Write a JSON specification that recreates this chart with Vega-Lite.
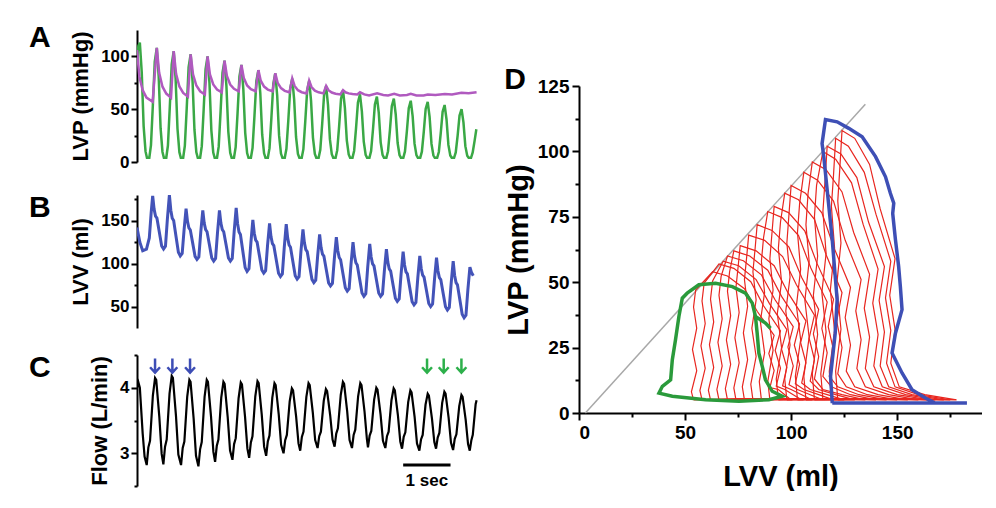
{
"$schema": "https://vega.github.io/schema/vega-lite/v6.json",
"padding": {"left": 29, "top": 23, "right": 0, "bottom": 0},
"background": "white",
"config": {
  "view": {"stroke": null},
  "font": "Liberation Sans",
  "axis": {"domainColor": "black", "domainWidth": 2, "tickColor": "black", "tickWidth": 2, "labelColor": "black", "labelFont": "Liberation Sans", "labelFontWeight": "bold", "titleFont": "Liberation Sans", "titleFontWeight": "bold", "titleColor": "black", "grid": false},
  "title": {"font": "Liberation Sans", "fontWeight": "bold", "fontSize": 30, "color": "black"}
},
"datasets": {
  "lvp": [
    {"t":0,"p":100},{"t":0.03,"p":110},
    {"t":0.06,"p":113},{"t":0.1,"p":85},{"t":0.14,"p":34},{"t":0.18,"p":10},{"t":0.21,"p":4},{"t":0.26,"p":4},{"t":0.295,"p":16},{"t":0.335,"p":54},{"t":0.375,"p":95},
    {"t":0.418,"p":108},{"t":0.458,"p":81},{"t":0.498,"p":32},{"t":0.538,"p":9.5},{"t":0.568,"p":4},{"t":0.618,"p":4},{"t":0.653,"p":15.6},{"t":0.693,"p":52.5},{"t":0.733,"p":92.4},
    {"t":0.775,"p":105},{"t":0.815,"p":79},{"t":0.855,"p":31.5},{"t":0.895,"p":9.3},{"t":0.925,"p":4},{"t":0.975,"p":4},{"t":1.01,"p":15.2},{"t":1.05,"p":51},{"t":1.09,"p":89.8},
    {"t":1.133,"p":102},{"t":1.173,"p":76.5},{"t":1.213,"p":30.6},{"t":1.253,"p":9.1},{"t":1.283,"p":4},{"t":1.333,"p":4},{"t":1.368,"p":15},{"t":1.408,"p":50},{"t":1.448,"p":88},
    {"t":1.49,"p":100},{"t":1.53,"p":75},{"t":1.57,"p":30},{"t":1.61,"p":9},{"t":1.64,"p":4},{"t":1.69,"p":4},{"t":1.725,"p":14.5},{"t":1.765,"p":48},{"t":1.805,"p":84.5},
    {"t":1.848,"p":96},{"t":1.888,"p":72},{"t":1.928,"p":28.8},{"t":1.968,"p":8.8},{"t":1.998,"p":4},{"t":2.048,"p":4},{"t":2.083,"p":14},{"t":2.123,"p":46},{"t":2.163,"p":81},
    {"t":2.205,"p":92},{"t":2.245,"p":69},{"t":2.285,"p":27.6},{"t":2.325,"p":8.5},{"t":2.355,"p":4},{"t":2.405,"p":4},{"t":2.44,"p":13.4},{"t":2.48,"p":43.5},{"t":2.52,"p":76.6},
    {"t":2.563,"p":87},{"t":2.603,"p":65.3},{"t":2.643,"p":26.1},{"t":2.683,"p":8.2},{"t":2.713,"p":4},{"t":2.763,"p":4},{"t":2.798,"p":13.1},{"t":2.838,"p":42},{"t":2.878,"p":73.9},
    {"t":2.92,"p":84},{"t":2.96,"p":63},{"t":3.0,"p":25.2},{"t":3.04,"p":8},{"t":3.07,"p":4},{"t":3.12,"p":4},{"t":3.155,"p":12.5},{"t":3.195,"p":39.5},{"t":3.235,"p":69.5},
    {"t":3.278,"p":79},{"t":3.318,"p":59.3},{"t":3.358,"p":23.7},{"t":3.398,"p":7.7},{"t":3.428,"p":4},{"t":3.478,"p":4},{"t":3.513,"p":12.2},{"t":3.553,"p":38.5},{"t":3.593,"p":67.8},
    {"t":3.635,"p":77},{"t":3.675,"p":57.8},{"t":3.715,"p":23.1},{"t":3.755,"p":7.6},{"t":3.785,"p":4},{"t":3.835,"p":4},{"t":3.87,"p":11.6},{"t":3.91,"p":36},{"t":3.95,"p":63.4},
    {"t":3.993,"p":72},{"t":4.033,"p":54},{"t":4.073,"p":21.6},{"t":4.113,"p":7.3},{"t":4.143,"p":4},{"t":4.193,"p":4},{"t":4.228,"p":11.2},{"t":4.268,"p":34},{"t":4.308,"p":59.8},
    {"t":4.35,"p":68},{"t":4.39,"p":51},{"t":4.43,"p":20.4},{"t":4.47,"p":7.1},{"t":4.5,"p":4},{"t":4.55,"p":4},{"t":4.585,"p":10.7},{"t":4.625,"p":32},{"t":4.665,"p":56.3},
    {"t":4.708,"p":64},{"t":4.748,"p":48},{"t":4.788,"p":19.2},{"t":4.828,"p":6.8},{"t":4.858,"p":4},{"t":4.908,"p":4},{"t":4.943,"p":10.4},{"t":4.983,"p":31},{"t":5.023,"p":54.6},
    {"t":5.065,"p":62},{"t":5.105,"p":46.5},{"t":5.145,"p":18.6},{"t":5.185,"p":6.7},{"t":5.215,"p":4},{"t":5.265,"p":4},{"t":5.3,"p":10.2},{"t":5.34,"p":30},{"t":5.38,"p":52.8},
    {"t":5.423,"p":60},{"t":5.463,"p":45},{"t":5.503,"p":18},{"t":5.543,"p":6.6},{"t":5.573,"p":4},{"t":5.623,"p":4},{"t":5.658,"p":10},{"t":5.698,"p":29},{"t":5.738,"p":51},
    {"t":5.78,"p":58},{"t":5.82,"p":43.5},{"t":5.86,"p":17.4},{"t":5.9,"p":6.5},{"t":5.93,"p":4},{"t":5.98,"p":4},{"t":6.015,"p":9.8},{"t":6.055,"p":28.5},{"t":6.095,"p":50.2},
    {"t":6.138,"p":57},{"t":6.178,"p":42.8},{"t":6.218,"p":17.1},{"t":6.258,"p":6.4},{"t":6.288,"p":4},{"t":6.338,"p":4},{"t":6.373,"p":9.5},{"t":6.413,"p":27},{"t":6.453,"p":47.5},
    {"t":6.495,"p":54},{"t":6.535,"p":40.5},{"t":6.575,"p":16.2},{"t":6.615,"p":6.2},{"t":6.645,"p":4},{"t":6.695,"p":4},{"t":6.73,"p":9},{"t":6.77,"p":25},{"t":6.81,"p":44},
    {"t":6.853,"p":50},{"t":6.893,"p":37.5},{"t":6.933,"p":15},{"t":6.973,"p":6},{"t":7.003,"p":4},{"t":7.053,"p":4},{"t":7.088,"p":9},{"t":7.128,"p":20},{"t":7.165,"p":31}
  ],
  "aop": [
    {"t":0,"p":106},{"t":0.05,"p":81},{"t":0.12,"p":68},{"t":0.2,"p":61},{"t":0.33,"p":57},
    {"t":0.418,"p":108},{"t":0.468,"p":84.5},{"t":0.538,"p":71.3},{"t":0.618,"p":64.8},{"t":0.718,"p":61},
    {"t":0.775,"p":105},{"t":0.825,"p":83.5},{"t":0.895,"p":71.5},{"t":0.975,"p":65.4},{"t":1.075,"p":62},
    {"t":1.133,"p":102},{"t":1.183,"p":83},{"t":1.253,"p":72.4},{"t":1.333,"p":67},{"t":1.433,"p":64},
    {"t":1.49,"p":100},{"t":1.54,"p":83},{"t":1.61,"p":73.5},{"t":1.69,"p":68.7},{"t":1.79,"p":66},
    {"t":1.848,"p":96},{"t":1.898,"p":81.5},{"t":1.968,"p":73.4},{"t":2.048,"p":69.3},{"t":2.148,"p":67},
    {"t":2.205,"p":92},{"t":2.255,"p":79.5},{"t":2.325,"p":72.5},{"t":2.405,"p":69},{"t":2.505,"p":67},
    {"t":2.563,"p":87},{"t":2.613,"p":77},{"t":2.683,"p":71.4},{"t":2.763,"p":68.6},{"t":2.863,"p":67},
    {"t":2.92,"p":84},{"t":2.97,"p":75},{"t":3.04,"p":70},{"t":3.12,"p":67.4},{"t":3.22,"p":66},
    {"t":3.278,"p":79},{"t":3.328,"p":72},{"t":3.398,"p":68},{"t":3.478,"p":66.1},{"t":3.578,"p":65},
    {"t":3.635,"p":77},{"t":3.685,"p":71},{"t":3.755,"p":67.6},{"t":3.835,"p":66},{"t":3.935,"p":65},
    {"t":3.993,"p":72},{"t":4.043,"p":68},{"t":4.113,"p":65.8},{"t":4.193,"p":64.6},{"t":4.293,"p":64},
    {"t":4.35,"p":68},{"t":4.4,"p":66},{"t":4.47,"p":65},{"t":4.55,"p":64.3},{"t":4.65,"p":64},
    {"t":4.708,"p":66},{"t":4.8,"p":64},{"t":4.9,"p":63},{"t":5.07,"p":65},{"t":5.2,"p":63.5},{"t":5.3,"p":63},{"t":5.43,"p":64.5},{"t":5.55,"p":63},{"t":5.7,"p":63.5},{"t":5.78,"p":64.5},{"t":5.9,"p":63},{"t":6.05,"p":63},{"t":6.14,"p":64},{"t":6.3,"p":63.5},{"t":6.5,"p":64.5},{"t":6.65,"p":64},{"t":6.85,"p":65.5},{"t":7.0,"p":65},{"t":7.17,"p":66}
  ],
  "lvv": [
    {"t":0,"v":142},{"t":0.06,"v":125},{"t":0.12,"v":115},{"t":0.2,"v":117},{"t":0.26,"v":130},{"t":0.3,"v":160},{"t":0.331,"v":179},
    {"t":0.361,"v":163.5},{"t":0.391,"v":155.4},{"t":0.421,"v":153},{"t":0.471,"v":136.8},{"t":0.521,"v":120.7},{"t":0.561,"v":117},{"t":0.601,"v":120.2},{"t":0.641,"v":151.7},{"t":0.684,"v":180},
    {"t":0.714,"v":162.3},{"t":0.744,"v":153},{"t":0.774,"v":150.2},{"t":0.824,"v":131.7},{"t":0.874,"v":113.3},{"t":0.914,"v":109},{"t":0.954,"v":111.8},{"t":0.994,"v":139.3},{"t":1.036,"v":164},
    {"t":1.066,"v":149.3},{"t":1.096,"v":141.6},{"t":1.126,"v":139.2},{"t":1.176,"v":123.9},{"t":1.226,"v":108.5},{"t":1.266,"v":105},{"t":1.306,"v":107.9},{"t":1.346,"v":136.4},{"t":1.389,"v":162},
    {"t":1.419,"v":147.3},{"t":1.449,"v":139.6},{"t":1.479,"v":137.2},{"t":1.529,"v":121.9},{"t":1.579,"v":106.5},{"t":1.619,"v":103},{"t":1.659,"v":106},{"t":1.699,"v":135.5},{"t":1.741,"v":162},
    {"t":1.771,"v":147.3},{"t":1.801,"v":139.6},{"t":1.831,"v":137.2},{"t":1.881,"v":121.9},{"t":1.931,"v":106.5},{"t":1.971,"v":103},{"t":2.011,"v":106.1},{"t":2.051,"v":137.1},{"t":2.094,"v":165},
    {"t":2.124,"v":146.5},{"t":2.154,"v":136.9},{"t":2.184,"v":133.9},{"t":2.234,"v":114.7},{"t":2.284,"v":95.4},{"t":2.324,"v":91},{"t":2.364,"v":94},{"t":2.404,"v":124},{"t":2.446,"v":151},
    {"t":2.476,"v":135.5},{"t":2.506,"v":127.4},{"t":2.536,"v":125},{"t":2.586,"v":108.8},{"t":2.636,"v":92.7},{"t":2.676,"v":89},{"t":2.716,"v":91.9},{"t":2.756,"v":120.9},{"t":2.799,"v":147},
    {"t":2.829,"v":131.5},{"t":2.859,"v":123.4},{"t":2.889,"v":121},{"t":2.939,"v":104.8},{"t":2.989,"v":88.7},{"t":3.029,"v":85},{"t":3.069,"v":88},{"t":3.109,"v":118.6},{"t":3.151,"v":146},
    {"t":3.181,"v":130},{"t":3.211,"v":121.7},{"t":3.241,"v":119.1},{"t":3.291,"v":102.5},{"t":3.341,"v":85.8},{"t":3.381,"v":82},{"t":3.421,"v":84.9},{"t":3.461,"v":113.9},{"t":3.504,"v":140},
    {"t":3.534,"v":124.5},{"t":3.564,"v":116.4},{"t":3.594,"v":114},{"t":3.644,"v":97.8},{"t":3.694,"v":81.7},{"t":3.734,"v":78},{"t":3.774,"v":80.8},{"t":3.814,"v":108.8},{"t":3.856,"v":134},
    {"t":3.886,"v":119},{"t":3.916,"v":111.2},{"t":3.946,"v":108.8},{"t":3.996,"v":93.2},{"t":4.046,"v":77.6},{"t":4.086,"v":74},{"t":4.126,"v":76.9},{"t":4.166,"v":105.4},{"t":4.209,"v":131},
    {"t":4.239,"v":115.3},{"t":4.269,"v":107.1},{"t":4.299,"v":104.5},{"t":4.349,"v":88.2},{"t":4.399,"v":71.8},{"t":4.439,"v":68},{"t":4.479,"v":70.9},{"t":4.519,"v":99.4},{"t":4.561,"v":125},
    {"t":4.591,"v":109.3},{"t":4.621,"v":101.1},{"t":4.651,"v":98.5},{"t":4.701,"v":82.2},{"t":4.751,"v":65.8},{"t":4.791,"v":62},{"t":4.831,"v":65},{"t":4.871,"v":95.6},{"t":4.914,"v":123},
    {"t":4.944,"v":107.8},{"t":4.974,"v":99.8},{"t":5.004,"v":97.4},{"t":5.054,"v":81.5},{"t":5.104,"v":65.7},{"t":5.144,"v":62},{"t":5.184,"v":64.8},{"t":5.224,"v":92.3},{"t":5.266,"v":117},
    {"t":5.296,"v":101.8},{"t":5.326,"v":93.8},{"t":5.356,"v":91.4},{"t":5.406,"v":75.5},{"t":5.456,"v":59.7},{"t":5.496,"v":56},{"t":5.536,"v":58.9},{"t":5.576,"v":87.9},{"t":5.619,"v":114},
    {"t":5.649,"v":98.5},{"t":5.679,"v":90.4},{"t":5.709,"v":88},{"t":5.759,"v":71.8},{"t":5.809,"v":55.7},{"t":5.849,"v":52},{"t":5.889,"v":54.9},{"t":5.929,"v":83.4},{"t":5.971,"v":109},
    {"t":6.001,"v":94.3},{"t":6.031,"v":86.6},{"t":6.061,"v":84.2},{"t":6.111,"v":68.9},{"t":6.161,"v":53.5},{"t":6.201,"v":50},{"t":6.241,"v":52.9},{"t":6.281,"v":81.4},{"t":6.324,"v":107},
    {"t":6.354,"v":91.8},{"t":6.384,"v":83.8},{"t":6.414,"v":81.4},{"t":6.464,"v":65.5},{"t":6.514,"v":49.7},{"t":6.554,"v":46},{"t":6.594,"v":48.9},{"t":6.634,"v":77.4},{"t":6.676,"v":103},
    {"t":6.706,"v":86.5},{"t":6.736,"v":77.9},{"t":6.766,"v":75.3},{"t":6.816,"v":58.1},{"t":6.866,"v":41},{"t":6.906,"v":37},{"t":6.946,"v":40},{"t":6.986,"v":69.5},{"t":7.029,"v":96},
    {"t":7.06,"v":90},{"t":7.1,"v":86}
  ],
  "flow": [
    {"t":0,"f":4.0},{"t":0.03,"f":4.08},{"t":0.06,"f":4.0},{"t":0.12,"f":3.3},{"t":0.16,"f":2.95},
    {"t":0.205,"f":2.82},{"t":0.24,"f":3.09},{"t":0.275,"f":3.19},{"t":0.335,"f":3.88},{"t":0.381,"f":4.15},{"t":0.406,"f":4.12},{"t":0.471,"f":3.56},{"t":0.521,"f":2.99},
    {"t":0.557,"f":2.83},{"t":0.592,"f":3.1},{"t":0.627,"f":3.21},{"t":0.687,"f":3.91},{"t":0.733,"f":4.18},{"t":0.758,"f":4.15},{"t":0.823,"f":3.57},{"t":0.873,"f":2.98},
    {"t":0.93,"f":2.82},{"t":0.965,"f":3.08},{"t":1.0,"f":3.18},{"t":1.06,"f":3.86},{"t":1.106,"f":4.12},{"t":1.131,"f":4.09},{"t":1.196,"f":3.53},{"t":1.246,"f":2.96},
    {"t":1.297,"f":2.8},{"t":1.332,"f":3.06},{"t":1.367,"f":3.17},{"t":1.427,"f":3.86},{"t":1.473,"f":4.12},{"t":1.498,"f":4.09},{"t":1.563,"f":3.56},{"t":1.613,"f":3.02},
    {"t":1.649,"f":2.87},{"t":1.684,"f":3.11},{"t":1.719,"f":3.21},{"t":1.779,"f":3.85},{"t":1.825,"f":4.09},{"t":1.85,"f":4.06},{"t":1.915,"f":3.55},{"t":1.965,"f":3.04},
    {"t":2.015,"f":2.9},{"t":2.05,"f":3.14},{"t":2.085,"f":3.23},{"t":2.145,"f":3.84},{"t":2.191,"f":4.08},{"t":2.216,"f":4.05},{"t":2.281,"f":3.56},{"t":2.331,"f":3.07},
    {"t":2.368,"f":2.93},{"t":2.403,"f":3.16},{"t":2.438,"f":3.26},{"t":2.498,"f":3.87},{"t":2.544,"f":4.1},{"t":2.569,"f":4.07},{"t":2.634,"f":3.59},{"t":2.684,"f":3.1},
    {"t":2.727,"f":2.96},{"t":2.762,"f":3.18},{"t":2.797,"f":3.27},{"t":2.857,"f":3.85},{"t":2.903,"f":4.07},{"t":2.928,"f":4.04},{"t":2.993,"f":3.59},{"t":3.043,"f":3.13},
    {"t":3.094,"f":3.0},{"t":3.129,"f":3.2},{"t":3.164,"f":3.28},{"t":3.224,"f":3.79},{"t":3.27,"f":3.99},{"t":3.295,"f":3.96},{"t":3.36,"f":3.56},{"t":3.41,"f":3.15},
    {"t":3.446,"f":3.04},{"t":3.481,"f":3.25},{"t":3.516,"f":3.33},{"t":3.576,"f":3.86},{"t":3.622,"f":4.07},{"t":3.647,"f":4.04},{"t":3.712,"f":3.62},{"t":3.762,"f":3.2},
    {"t":3.813,"f":3.08},{"t":3.848,"f":3.26},{"t":3.883,"f":3.33},{"t":3.943,"f":3.8},{"t":3.989,"f":3.98},{"t":4.014,"f":3.95},{"t":4.079,"f":3.58},{"t":4.129,"f":3.21},
    {"t":4.172,"f":3.1},{"t":4.207,"f":3.3},{"t":4.242,"f":3.38},{"t":4.302,"f":3.89},{"t":4.348,"f":4.09},{"t":4.373,"f":4.06},{"t":4.438,"f":3.64},{"t":4.488,"f":3.2},
    {"t":4.539,"f":3.08},{"t":4.574,"f":3.28},{"t":4.609,"f":3.36},{"t":4.669,"f":3.87},{"t":4.715,"f":4.07},{"t":4.74,"f":4.04},{"t":4.805,"f":3.63},{"t":4.855,"f":3.21},
    {"t":4.877,"f":3.09},{"t":4.912,"f":3.27},{"t":4.947,"f":3.34},{"t":5.007,"f":3.82},{"t":5.053,"f":4.0},{"t":5.078,"f":3.97},{"t":5.143,"f":3.59},{"t":5.193,"f":3.19},
    {"t":5.243,"f":3.08},{"t":5.278,"f":3.26},{"t":5.313,"f":3.33},{"t":5.373,"f":3.81},{"t":5.419,"f":3.99},{"t":5.444,"f":3.96},{"t":5.509,"f":3.58},{"t":5.559,"f":3.18},
    {"t":5.596,"f":3.07},{"t":5.631,"f":3.25},{"t":5.666,"f":3.32},{"t":5.726,"f":3.78},{"t":5.772,"f":3.96},{"t":5.797,"f":3.93},{"t":5.862,"f":3.55},{"t":5.912,"f":3.15},
    {"t":5.962,"f":3.04},{"t":5.997,"f":3.21},{"t":6.032,"f":3.28},{"t":6.092,"f":3.74},{"t":6.138,"f":3.91},{"t":6.163,"f":3.88},{"t":6.228,"f":3.53},{"t":6.278,"f":3.17},
    {"t":6.314,"f":3.07},{"t":6.349,"f":3.24},{"t":6.384,"f":3.31},{"t":6.444,"f":3.77},{"t":6.49,"f":3.94},{"t":6.515,"f":3.91},{"t":6.58,"f":3.54},{"t":6.63,"f":3.16},
    {"t":6.674,"f":3.05},{"t":6.709,"f":3.22},{"t":6.744,"f":3.29},{"t":6.804,"f":3.72},{"t":6.85,"f":3.89},{"t":6.875,"f":3.86},{"t":6.94,"f":3.51},{"t":6.99,"f":3.14},
    {"t":7.026,"f":3.04},{"t":7.06,"f":3.2},{"t":7.09,"f":3.28},{"t":7.15,"f":3.75},{"t":7.17,"f":3.81}
  ],
  "arrows": [
    {"t":0.381,"f":4.34,"c":"blue"},{"t":0.747,"f":4.34,"c":"blue"},{"t":1.12,"f":4.34,"c":"blue"},
    {"t":6.124,"f":4.34,"c":"green"},{"t":6.476,"f":4.34,"c":"green"},{"t":6.85,"f":4.34,"c":"green"}
  ],
  "bar": [{"t":5.62,"t2":6.62,"f":2.82}],
  "barlabel": [{"t":6.12,"f":2.58,"label":"1 sec"}],
  "diag": [{"v":3,"p":0},{"v":135,"p":118}],
  "blue": [
    {"i":1,"v":119.4,"p":3.8},{"i":2,"v":118.6,"p":14},{"i":3,"v":120.8,"p":30.5},{"i":4,"v":121.7,"p":43.3},{"i":5,"v":120.8,"p":52.2},{"i":6,"v":119.4,"p":66.2},{"i":7,"v":117,"p":85.3},{"i":8,"v":115.4,"p":98},{"i":9,"v":114.6,"p":103},{"i":10,"v":116.2,"p":112.2},
    {"i":11,"v":121.7,"p":111.3},{"i":12,"v":127.2,"p":108.8},{"i":13,"v":133.5,"p":105.6},{"i":14,"v":139.8,"p":98},{"i":15,"v":144.5,"p":90.3},{"i":16,"v":146.8,"p":84},{"i":17,"v":148.4,"p":80.2},{"i":18,"v":147.9,"p":76.3},{"i":19,"v":149.2,"p":66.2},{"i":20,"v":150.7,"p":56},
    {"i":21,"v":151.5,"p":48.4},{"i":22,"v":152.3,"p":39.5},{"i":23,"v":149.2,"p":30.5},{"i":24,"v":147.6,"p":22.9},{"i":25,"v":152.3,"p":15.3},{"i":26,"v":157,"p":8.9},{"i":27,"v":163.3,"p":5.7},{"i":28,"v":167.9,"p":3.8},{"i":29,"v":182.9,"p":3.8},{"i":30,"v":119.4,"p":3.8}
  ],
  "green": [
    {"i":1,"v":90.3,"p":32.4},{"i":2,"v":87.9,"p":34.4},{"i":3,"v":83.2,"p":36.9},{"i":4,"v":81.7,"p":42},{"i":5,"v":78.5,"p":45.8},{"i":6,"v":72.3,"p":48.3},{"i":7,"v":64.4,"p":49.6},{"i":8,"v":56.5,"p":49},{"i":9,"v":51,"p":45.8},{"i":10,"v":48.7,"p":43.9},
    {"i":11,"v":47.1,"p":36.9},{"i":12,"v":45.5,"p":28},{"i":13,"v":44,"p":20.4},{"i":14,"v":43.2,"p":12.7},{"i":15,"v":39.3,"p":10.2},{"i":16,"v":37.7,"p":7.6},{"i":17,"v":44,"p":6.4},{"i":18,"v":59.7,"p":5.1},{"i":19,"v":75.4,"p":4.5},{"i":20,"v":89.5,"p":5.1},
    {"i":21,"v":95.8,"p":6.4},{"i":22,"v":91.1,"p":8.3},{"i":23,"v":87.9,"p":12.7},{"i":24,"v":86.4,"p":17.8},{"i":25,"v":84.8,"p":22.9},{"i":26,"v":84,"p":30.5},{"i":27,"v":83.2,"p":36.9}
  ],
  "red": [
    {"k":1,"i":1,"v":122,"p":5},{"k":1,"i":2,"v":121,"p":16},{"k":1,"i":3,"v":123.5,"p":32},{"k":1,"i":4,"v":121.5,"p":49},{"k":1,"i":5,"v":123.5,"p":65},{"k":1,"i":6,"v":122,"p":81},{"k":1,"i":7,"v":123,"p":94},{"k":1,"i":8,"v":124,"p":108},{"k":1,"i":9,"v":130,"p":105},{"k":1,"i":10,"v":137,"p":95},{"k":1,"i":11,"v":142,"p":78},{"k":1,"i":12,"v":149,"p":59},{"k":1,"i":13,"v":146.5,"p":45},{"k":1,"i":14,"v":149,"p":32},{"k":1,"i":15,"v":147,"p":19},{"k":1,"i":16,"v":151,"p":10},{"k":1,"i":17,"v":163,"p":7},{"k":1,"i":18,"v":178,"p":5},{"k":1,"i":19,"v":150,"p":5.5},{"k":1,"i":20,"v":122,"p":5},
    {"k":2,"i":1,"v":119,"p":5},{"k":2,"i":2,"v":118,"p":16},{"k":2,"i":3,"v":120.5,"p":31.5},{"k":2,"i":4,"v":118.5,"p":47},{"k":2,"i":5,"v":120.5,"p":63},{"k":2,"i":6,"v":119,"p":79},{"k":2,"i":7,"v":120,"p":91},{"k":2,"i":8,"v":121,"p":105},{"k":2,"i":9,"v":127,"p":102},{"k":2,"i":10,"v":134.5,"p":92},{"k":2,"i":11,"v":140,"p":76},{"k":2,"i":12,"v":147,"p":58},{"k":2,"i":13,"v":144.5,"p":44},{"k":2,"i":14,"v":147,"p":31.5},{"k":2,"i":15,"v":145,"p":19},{"k":2,"i":16,"v":149,"p":10},{"k":2,"i":17,"v":160,"p":7},{"k":2,"i":18,"v":175,"p":5},{"k":2,"i":19,"v":147,"p":5.5},{"k":2,"i":20,"v":119,"p":5},
    {"k":3,"i":1,"v":115,"p":5},{"k":3,"i":2,"v":114,"p":15},{"k":3,"i":3,"v":116.5,"p":31},{"k":3,"i":4,"v":114.5,"p":46},{"k":3,"i":5,"v":116.5,"p":61},{"k":3,"i":6,"v":115,"p":77},{"k":3,"i":7,"v":116,"p":89},{"k":3,"i":8,"v":117,"p":102},{"k":3,"i":9,"v":123.5,"p":99},{"k":3,"i":10,"v":131,"p":90},{"k":3,"i":11,"v":136.5,"p":73},{"k":3,"i":12,"v":144,"p":56},{"k":3,"i":13,"v":141.5,"p":43},{"k":3,"i":14,"v":144,"p":31},{"k":3,"i":15,"v":142,"p":18},{"k":3,"i":16,"v":146,"p":10},{"k":3,"i":17,"v":157,"p":7},{"k":3,"i":18,"v":172,"p":5},{"k":3,"i":19,"v":143,"p":5.5},{"k":3,"i":20,"v":115,"p":5},
    {"k":4,"i":1,"v":111,"p":5},{"k":4,"i":2,"v":110,"p":15},{"k":4,"i":3,"v":112.5,"p":30},{"k":4,"i":4,"v":110.5,"p":45},{"k":4,"i":5,"v":112.5,"p":60},{"k":4,"i":6,"v":111,"p":75},{"k":4,"i":7,"v":112,"p":87},{"k":4,"i":8,"v":115,"p":100},{"k":4,"i":9,"v":121,"p":97},{"k":4,"i":10,"v":128.5,"p":88},{"k":4,"i":11,"v":134,"p":72},{"k":4,"i":12,"v":141,"p":55},{"k":4,"i":13,"v":138.5,"p":42},{"k":4,"i":14,"v":141,"p":30},{"k":4,"i":15,"v":139,"p":18},{"k":4,"i":16,"v":143,"p":10},{"k":4,"i":17,"v":154,"p":7},{"k":4,"i":18,"v":168,"p":5},{"k":4,"i":19,"v":140,"p":5.5},{"k":4,"i":20,"v":111,"p":5},
    {"k":5,"i":1,"v":107,"p":5},{"k":5,"i":2,"v":106,"p":14},{"k":5,"i":3,"v":108.5,"p":29},{"k":5,"i":4,"v":106.5,"p":43},{"k":5,"i":5,"v":108.5,"p":58},{"k":5,"i":6,"v":107,"p":72},{"k":5,"i":7,"v":108,"p":84},{"k":5,"i":8,"v":110,"p":96},{"k":5,"i":9,"v":116.5,"p":93},{"k":5,"i":10,"v":124,"p":84.5},{"k":5,"i":11,"v":129.5,"p":69},{"k":5,"i":12,"v":137,"p":53},{"k":5,"i":13,"v":134.5,"p":40},{"k":5,"i":14,"v":137,"p":29},{"k":5,"i":15,"v":135,"p":17},{"k":5,"i":16,"v":139,"p":10},{"k":5,"i":17,"v":150,"p":7},{"k":5,"i":18,"v":165,"p":5},{"k":5,"i":19,"v":136,"p":5.5},{"k":5,"i":20,"v":107,"p":5},
    {"k":6,"i":1,"v":103,"p":5},{"k":6,"i":2,"v":102,"p":14},{"k":6,"i":3,"v":104.5,"p":28},{"k":6,"i":4,"v":102.5,"p":41},{"k":6,"i":5,"v":104.5,"p":55},{"k":6,"i":6,"v":103,"p":69},{"k":6,"i":7,"v":104,"p":80},{"k":6,"i":8,"v":106,"p":92},{"k":6,"i":9,"v":112.5,"p":89},{"k":6,"i":10,"v":120,"p":81},{"k":6,"i":11,"v":125.5,"p":66},{"k":6,"i":12,"v":133,"p":51},{"k":6,"i":13,"v":130.5,"p":39},{"k":6,"i":14,"v":133,"p":28},{"k":6,"i":15,"v":131,"p":17},{"k":6,"i":16,"v":135,"p":10},{"k":6,"i":17,"v":146,"p":7},{"k":6,"i":18,"v":160,"p":5},{"k":6,"i":19,"v":131,"p":5.5},{"k":6,"i":20,"v":103,"p":5},
    {"k":7,"i":1,"v":98,"p":5},{"k":7,"i":2,"v":97,"p":13},{"k":7,"i":3,"v":99.5,"p":26},{"k":7,"i":4,"v":97.5,"p":39},{"k":7,"i":5,"v":99.5,"p":52},{"k":7,"i":6,"v":98,"p":65},{"k":7,"i":7,"v":99,"p":76},{"k":7,"i":8,"v":100,"p":87},{"k":7,"i":9,"v":106.8,"p":84},{"k":7,"i":10,"v":114.5,"p":76.5},{"k":7,"i":11,"v":120.3,"p":63},{"k":7,"i":12,"v":128,"p":48},{"k":7,"i":13,"v":125.5,"p":36.5},{"k":7,"i":14,"v":128,"p":26},{"k":7,"i":15,"v":126,"p":16},{"k":7,"i":16,"v":130,"p":10},{"k":7,"i":17,"v":141,"p":7},{"k":7,"i":18,"v":155,"p":5},{"k":7,"i":19,"v":126,"p":5.5},{"k":7,"i":20,"v":98,"p":5},
    {"k":8,"i":1,"v":94,"p":5},{"k":8,"i":2,"v":93,"p":13},{"k":8,"i":3,"v":95.5,"p":25},{"k":8,"i":4,"v":93.5,"p":38},{"k":8,"i":5,"v":95.5,"p":50},{"k":8,"i":6,"v":94,"p":63},{"k":8,"i":7,"v":95,"p":73},{"k":8,"i":8,"v":97,"p":84},{"k":8,"i":9,"v":103.5,"p":81.5},{"k":8,"i":10,"v":111,"p":74},{"k":8,"i":11,"v":116.5,"p":60.5},{"k":8,"i":12,"v":124,"p":46},{"k":8,"i":13,"v":121.5,"p":35},{"k":8,"i":14,"v":124,"p":25},{"k":8,"i":15,"v":122,"p":15},{"k":8,"i":16,"v":126,"p":10},{"k":8,"i":17,"v":136,"p":7},{"k":8,"i":18,"v":150,"p":5},{"k":8,"i":19,"v":122,"p":5.5},{"k":8,"i":20,"v":94,"p":5},
    {"k":9,"i":1,"v":90,"p":5},{"k":9,"i":2,"v":89,"p":12},{"k":9,"i":3,"v":91.5,"p":24},{"k":9,"i":4,"v":89.5,"p":36},{"k":9,"i":5,"v":91.5,"p":47},{"k":9,"i":6,"v":90,"p":59},{"k":9,"i":7,"v":91,"p":69},{"k":9,"i":8,"v":92,"p":79},{"k":9,"i":9,"v":98.8,"p":76.6},{"k":9,"i":10,"v":106.5,"p":69.5},{"k":9,"i":11,"v":112.3,"p":57},{"k":9,"i":12,"v":120,"p":43.5},{"k":9,"i":13,"v":117.5,"p":33},{"k":9,"i":14,"v":120,"p":24},{"k":9,"i":15,"v":118,"p":14},{"k":9,"i":16,"v":122,"p":10},{"k":9,"i":17,"v":132,"p":7},{"k":9,"i":18,"v":145,"p":5},{"k":9,"i":19,"v":118,"p":5.5},{"k":9,"i":20,"v":90,"p":5},
    {"k":10,"i":1,"v":86,"p":5},{"k":10,"i":2,"v":85,"p":12},{"k":10,"i":3,"v":87.5,"p":23},{"k":10,"i":4,"v":85.5,"p":35},{"k":10,"i":5,"v":87.5,"p":46},{"k":10,"i":6,"v":86,"p":58},{"k":10,"i":7,"v":87,"p":67},{"k":10,"i":8,"v":89,"p":77},{"k":10,"i":9,"v":95.8,"p":74.7},{"k":10,"i":10,"v":103.5,"p":67.8},{"k":10,"i":11,"v":109.3,"p":55.4},{"k":10,"i":12,"v":117,"p":42.4},{"k":10,"i":13,"v":114.5,"p":32.3},{"k":10,"i":14,"v":117,"p":23},{"k":10,"i":15,"v":115,"p":14},{"k":10,"i":16,"v":119,"p":10},{"k":10,"i":17,"v":128,"p":7},{"k":10,"i":18,"v":140,"p":5},{"k":10,"i":19,"v":113,"p":5.5},{"k":10,"i":20,"v":86,"p":5},
    {"k":11,"i":1,"v":82,"p":5},{"k":11,"i":2,"v":81,"p":11},{"k":11,"i":3,"v":83.5,"p":21.6},{"k":11,"i":4,"v":81.5,"p":32.4},{"k":11,"i":5,"v":83.5,"p":43.2},{"k":11,"i":6,"v":82,"p":54},{"k":11,"i":7,"v":83,"p":62.6},{"k":11,"i":8,"v":84,"p":72},{"k":11,"i":9,"v":91,"p":69.8},{"k":11,"i":10,"v":99,"p":63.4},{"k":11,"i":11,"v":105,"p":51.8},{"k":11,"i":12,"v":113,"p":39.6},{"k":11,"i":13,"v":110.5,"p":30.2},{"k":11,"i":14,"v":113,"p":21.6},{"k":11,"i":15,"v":111,"p":13},{"k":11,"i":16,"v":115,"p":9},{"k":11,"i":17,"v":124,"p":7},{"k":11,"i":18,"v":135,"p":5},{"k":11,"i":19,"v":108,"p":5.5},{"k":11,"i":20,"v":82,"p":5},
    {"k":12,"i":1,"v":78,"p":5},{"k":12,"i":2,"v":77,"p":10},{"k":12,"i":3,"v":79.5,"p":20.4},{"k":12,"i":4,"v":77.5,"p":30.6},{"k":12,"i":5,"v":79.5,"p":40.8},{"k":12,"i":6,"v":78,"p":51},{"k":12,"i":7,"v":79,"p":59.2},{"k":12,"i":8,"v":80,"p":68},{"k":12,"i":9,"v":87.5,"p":66},{"k":12,"i":10,"v":96,"p":59.8},{"k":12,"i":11,"v":102.5,"p":49},{"k":12,"i":12,"v":111,"p":37.4},{"k":12,"i":13,"v":108.5,"p":28.6},{"k":12,"i":14,"v":111,"p":20.4},{"k":12,"i":15,"v":109,"p":12.2},{"k":12,"i":16,"v":113,"p":9},{"k":12,"i":17,"v":121,"p":7},{"k":12,"i":18,"v":130,"p":5},{"k":12,"i":19,"v":104,"p":5.5},{"k":12,"i":20,"v":78,"p":5},
    {"k":13,"i":1,"v":74,"p":5},{"k":13,"i":2,"v":73,"p":9.6},{"k":13,"i":3,"v":75.5,"p":19.2},{"k":13,"i":4,"v":73.5,"p":28.8},{"k":13,"i":5,"v":75.5,"p":38.4},{"k":13,"i":6,"v":74,"p":48},{"k":13,"i":7,"v":75,"p":55.7},{"k":13,"i":8,"v":76,"p":64},{"k":13,"i":9,"v":83.5,"p":62},{"k":13,"i":10,"v":92,"p":56.3},{"k":13,"i":11,"v":98.5,"p":46},{"k":13,"i":12,"v":107,"p":35.2},{"k":13,"i":13,"v":104.5,"p":26.9},{"k":13,"i":14,"v":107,"p":19.2},{"k":13,"i":15,"v":105,"p":11.5},{"k":13,"i":16,"v":109,"p":9},{"k":13,"i":17,"v":117,"p":7},{"k":13,"i":18,"v":125,"p":5},{"k":13,"i":19,"v":100,"p":5.5},{"k":13,"i":20,"v":74,"p":5},
    {"k":14,"i":1,"v":70,"p":5},{"k":14,"i":2,"v":69,"p":9.3},{"k":14,"i":3,"v":71.5,"p":18.6},{"k":14,"i":4,"v":69.5,"p":27.9},{"k":14,"i":5,"v":71.5,"p":37.2},{"k":14,"i":6,"v":70,"p":46.5},{"k":14,"i":7,"v":71,"p":54},{"k":14,"i":8,"v":73,"p":62},{"k":14,"i":9,"v":80.5,"p":60},{"k":14,"i":10,"v":89,"p":54.6},{"k":14,"i":11,"v":95.5,"p":44.6},{"k":14,"i":12,"v":104,"p":34.1},{"k":14,"i":13,"v":101.5,"p":26},{"k":14,"i":14,"v":104,"p":18.6},{"k":14,"i":15,"v":102,"p":11.2},{"k":14,"i":16,"v":106,"p":9},{"k":14,"i":17,"v":113,"p":7},{"k":14,"i":18,"v":120,"p":5},{"k":14,"i":19,"v":95,"p":5.5},{"k":14,"i":20,"v":70,"p":5},
    {"k":15,"i":1,"v":66,"p":5},{"k":15,"i":2,"v":65,"p":9},{"k":15,"i":3,"v":67.5,"p":18},{"k":15,"i":4,"v":65.5,"p":27},{"k":15,"i":5,"v":67.5,"p":36},{"k":15,"i":6,"v":66,"p":45},{"k":15,"i":7,"v":67,"p":52.2},{"k":15,"i":8,"v":70,"p":60},{"k":15,"i":9,"v":77.5,"p":58.2},{"k":15,"i":10,"v":86,"p":52.8},{"k":15,"i":11,"v":92.5,"p":43.2},{"k":15,"i":12,"v":101,"p":33},{"k":15,"i":13,"v":98.5,"p":25.2},{"k":15,"i":14,"v":101,"p":18},{"k":15,"i":15,"v":99,"p":10.8},{"k":15,"i":16,"v":103,"p":9},{"k":15,"i":17,"v":109,"p":7},{"k":15,"i":18,"v":115,"p":5},{"k":15,"i":19,"v":90,"p":5.5},{"k":15,"i":20,"v":66,"p":5},
    {"k":16,"i":1,"v":62,"p":5},{"k":16,"i":2,"v":61,"p":8.7},{"k":16,"i":3,"v":63.5,"p":17.4},{"k":16,"i":4,"v":61.5,"p":26.1},{"k":16,"i":5,"v":63.5,"p":34.8},{"k":16,"i":6,"v":62,"p":43.5},{"k":16,"i":7,"v":63,"p":50.5},{"k":16,"i":8,"v":68,"p":58},{"k":16,"i":9,"v":75.3,"p":56.3},{"k":16,"i":10,"v":83.5,"p":51},{"k":16,"i":11,"v":89.8,"p":41.8},{"k":16,"i":12,"v":98,"p":31.9},{"k":16,"i":13,"v":95.5,"p":24.4},{"k":16,"i":14,"v":98,"p":17.4},{"k":16,"i":15,"v":96,"p":10.4},{"k":16,"i":16,"v":100,"p":9},{"k":16,"i":17,"v":105,"p":7},{"k":16,"i":18,"v":110,"p":5},{"k":16,"i":19,"v":86,"p":5.5},{"k":16,"i":20,"v":62,"p":5},
    {"k":17,"i":1,"v":58,"p":5},{"k":17,"i":2,"v":57,"p":8.6},{"k":17,"i":3,"v":59.5,"p":17.1},{"k":17,"i":4,"v":57.5,"p":25.7},{"k":17,"i":5,"v":59.5,"p":34.2},{"k":17,"i":6,"v":58,"p":42.8},{"k":17,"i":7,"v":59,"p":49.6},{"k":17,"i":8,"v":66,"p":57},{"k":17,"i":9,"v":73,"p":55.3},{"k":17,"i":10,"v":81,"p":50.2},{"k":17,"i":11,"v":87,"p":41},{"k":17,"i":12,"v":95,"p":31.4},{"k":17,"i":13,"v":92.5,"p":23.9},{"k":17,"i":14,"v":95,"p":17.1},{"k":17,"i":15,"v":93,"p":10.3},{"k":17,"i":16,"v":97,"p":9},{"k":17,"i":17,"v":101,"p":7},{"k":17,"i":18,"v":105,"p":5},{"k":17,"i":19,"v":82,"p":5.5},{"k":17,"i":20,"v":58,"p":5},
    {"k":18,"i":1,"v":54,"p":5},{"k":18,"i":2,"v":53,"p":8.1},{"k":18,"i":3,"v":55.5,"p":16.2},{"k":18,"i":4,"v":53.5,"p":24.3},{"k":18,"i":5,"v":55.5,"p":32.4},{"k":18,"i":6,"v":54,"p":40.5},{"k":18,"i":7,"v":55,"p":47},{"k":18,"i":8,"v":63,"p":54},{"k":18,"i":9,"v":70,"p":52.4},{"k":18,"i":10,"v":78,"p":47.5},{"k":18,"i":11,"v":84,"p":38.9},{"k":18,"i":12,"v":92,"p":29.7},{"k":18,"i":13,"v":89.5,"p":22.7},{"k":18,"i":14,"v":92,"p":16.2},{"k":18,"i":15,"v":90,"p":9.7},{"k":18,"i":16,"v":94,"p":9},{"k":18,"i":17,"v":97,"p":7},{"k":18,"i":18,"v":100,"p":5},{"k":18,"i":19,"v":77,"p":5.5},{"k":18,"i":20,"v":54,"p":5}
  ]
},
"spacing": 26,
"hconcat": [
  {
    "spacing": 25,
    "vconcat": [
      {
        "spacing": 23,
        "vconcat": [
          {
            "width": 341, "height": 132,
            "title": {"text": "A", "orient": "top", "anchor": "start", "frame": "group", "dx": -108, "baseline": "top", "offset": -23},
            "encoding": {
              "x": {"field": "t", "type": "quantitative", "scale": {"domain": [0, 7.2], "nice": false}, "axis": null},
              "y": {"field": "p", "type": "quantitative", "scale": {"domain": [0, 125], "nice": false},
                    "axis": {"title": "LVP (mmHg)", "values": [0, 25, 50, 75, 100], "labelExpr": "datum.value % 50 === 0 ? datum.label : ''", "tickSize": {"condition": {"test": "datum.value % 50 !== 0", "value": 3}, "value": 6}, "labelFontSize": 17, "titleFontSize": 22, "labelPadding": 2, "titlePadding": 8}}
            },
            "layer": [
              {"data": {"name": "lvp"}, "mark": {"type": "line", "color": "#3aa845", "strokeWidth": 2.5, "clip": true}},
              {"data": {"name": "aop"}, "mark": {"type": "line", "color": "#b05abf", "strokeWidth": 2.5, "clip": true}}
            ]
          },
          {
            "width": 341, "height": 133,
            "title": {"text": "B", "orient": "top", "anchor": "start", "frame": "group", "dx": -108, "baseline": "top", "offset": -28},
            "data": {"name": "lvv"},
            "mark": {"type": "line", "color": "#4353b8", "strokeWidth": 3, "clip": true},
            "encoding": {
              "x": {"field": "t", "type": "quantitative", "scale": {"domain": [0, 7.2], "nice": false}, "axis": null},
              "y": {"field": "v", "type": "quantitative", "scale": {"domain": [25, 180], "nice": false, "zero": false},
                    "axis": {"title": "LVV (ml)", "values": [50, 75, 100, 125, 150, 175], "labelExpr": "datum.value % 50 === 0 ? datum.label : ''", "tickSize": {"condition": {"test": "datum.value % 50 !== 0", "value": 3}, "value": 6}, "labelFontSize": 17, "titleFontSize": 22, "labelPadding": 2, "titlePadding": 8}}
            }
          }
        ]
      },
      {
        "width": 341, "height": 131,
        "title": {"text": "C", "orient": "top", "anchor": "start", "frame": "group", "dx": -108, "baseline": "top", "offset": -30},
        "encoding": {
          "x": {"field": "t", "type": "quantitative", "scale": {"domain": [0, 7.2], "nice": false}, "axis": null},
          "y": {"field": "f", "type": "quantitative", "scale": {"domain": [2.5, 4.5], "nice": false, "zero": false},
                "axis": {"title": "Flow (L/min)", "values": [2.5, 3, 3.5, 4, 4.5], "labelExpr": "datum.value % 1 === 0 ? '' + datum.value : ''", "tickSize": {"condition": {"test": "datum.value % 1 !== 0", "value": 3}, "value": 6}, "labelFontSize": 17, "titleFontSize": 22, "labelPadding": 2, "titlePadding": 8}}
        },
        "layer": [
          {"data": {"name": "flow"}, "mark": {"type": "line", "color": "black", "strokeWidth": 2.2, "clip": true}},
          {"data": {"name": "arrows"}, "mark": {"type": "point", "shape": "M0,-1L0,0.95M-0.7,0.25L0,1L0.7,0.25", "filled": false, "strokeWidth": 2.5, "size": 200, "opacity": 1},
           "encoding": {"color": {"field": "c", "type": "nominal", "scale": {"domain": ["blue", "green"], "range": ["#3d4db5", "#2db04b"]}, "legend": null}}},
          {"data": {"name": "bar"}, "mark": {"type": "rule", "color": "black", "strokeWidth": 3}, "encoding": {"x2": {"field": "t2"}}},
          {"data": {"name": "barlabel"}, "mark": {"type": "text", "fontSize": 17, "fontWeight": "bold", "font": "Liberation Sans", "color": "black"}, "encoding": {"text": {"field": "label"}}}
        ]
      }
    ]
  },
  {
    "spacing": 34,
    "vconcat": [
      {"width": 10, "height": 1, "data": {"values": []}, "mark": "point"},
      {
        "width": 403, "height": 327,
        "title": {"text": "D", "orient": "top", "anchor": "start", "frame": "bounds", "baseline": "alphabetic", "offset": -42},
        "encoding": {
          "x": {"field": "v", "type": "quantitative", "scale": {"domain": [0, 190], "nice": false},
                "axis": {"title": "LVV (ml)", "values": [0, 25, 50, 75, 100, 125, 150, 175], "labelExpr": "datum.value % 50 === 0 ? datum.label : ''", "tickSize": {"condition": {"test": "datum.value % 50 !== 0", "value": 4}, "value": 7}, "labelFontSize": 19, "titleFontSize": 29, "labelPadding": 3, "titlePadding": 20}},
          "y": {"field": "p", "type": "quantitative", "scale": {"domain": [0, 125], "nice": false},
                "axis": {"title": "LVP (mmHg)", "values": [0, 12.5, 25, 37.5, 50, 62.5, 75, 87.5, 100, 112.5, 125], "labelExpr": "datum.value % 25 === 0 ? datum.label : ''", "tickSize": {"condition": {"test": "datum.value % 25 !== 0", "value": 4}, "value": 7}, "labelFontSize": 19, "titleFontSize": 29, "labelPadding": 3, "titlePadding": 4}}
        },
        "layer": [
          {"data": {"name": "diag"}, "mark": {"type": "line", "color": "#a8a8a8", "strokeWidth": 1.5}},
          {"data": {"name": "red"}, "mark": {"type": "line", "color": "#e8261f", "strokeWidth": 1.2}, "encoding": {"detail": {"field": "k", "type": "nominal"}, "order": {"field": "i", "type": "quantitative"}}},
          {"data": {"name": "blue"}, "mark": {"type": "line", "color": "#3e4fb5", "strokeWidth": 3.5}, "encoding": {"order": {"field": "i", "type": "quantitative"}}},
          {"data": {"name": "green"}, "mark": {"type": "line", "color": "#2a9a3b", "strokeWidth": 3.5}, "encoding": {"order": {"field": "i", "type": "quantitative"}}}
        ]
      }
    ]
  }
]
}
